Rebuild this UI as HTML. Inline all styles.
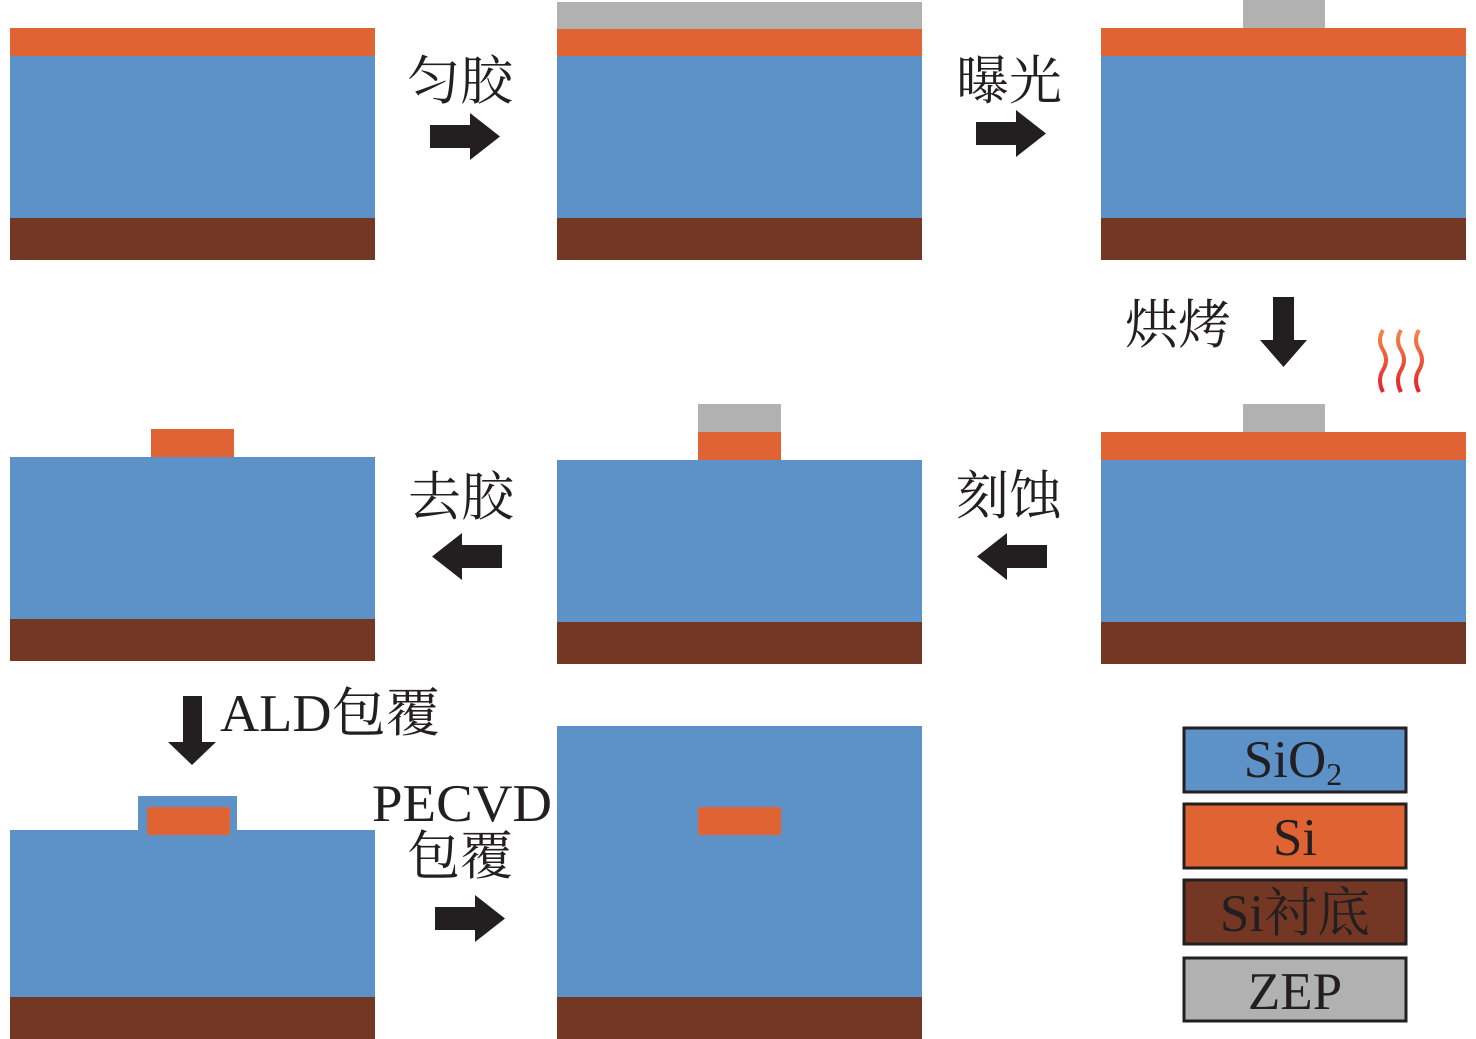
<!DOCTYPE html>
<html><head><meta charset="utf-8"><style>
body{margin:0;background:#fff}
svg{display:block}
text{font-family:"Liberation Serif","Noto Serif CJK SC",serif;fill:#231f20}
</style></head><body>
<svg width="1476" height="1039" viewBox="0 0 1476 1039" xmlns="http://www.w3.org/2000/svg">
<defs>
<linearGradient id="hg" x1="0" y1="0" x2="0" y2="1"><stop offset="0" stop-color="#f08a4a"/><stop offset="1" stop-color="#e8202a"/></linearGradient>
</defs>
<rect x="10" y="28" width="365" height="28" fill="#e06433"/><rect x="10" y="56" width="365" height="162" fill="#5d92c9"/><rect x="10" y="218" width="365" height="42" fill="#733723"/>
<rect x="557" y="2" width="365" height="27" fill="#b1b1b1"/>
<rect x="557" y="29" width="365" height="27" fill="#e06433"/><rect x="557" y="56" width="365" height="162" fill="#5d92c9"/><rect x="557" y="218" width="365" height="42" fill="#733723"/>
<rect x="1243" y="0" width="82" height="28" fill="#b1b1b1"/>
<rect x="1101" y="28" width="365" height="28" fill="#e06433"/><rect x="1101" y="56" width="365" height="162" fill="#5d92c9"/><rect x="1101" y="218" width="365" height="42" fill="#733723"/>

<rect x="1243" y="404" width="82" height="28" fill="#b1b1b1"/>
<rect x="1101" y="432" width="365" height="28" fill="#e06433"/><rect x="1101" y="460" width="365" height="162" fill="#5d92c9"/><rect x="1101" y="622" width="365" height="42" fill="#733723"/>

<rect x="698" y="404" width="83" height="28" fill="#b1b1b1"/><rect x="698" y="432" width="83" height="28" fill="#e06433"/>
<rect x="557" y="460" width="365" height="162" fill="#5d92c9"/><rect x="557" y="622" width="365" height="42" fill="#733723"/>

<rect x="151" y="429" width="83" height="28" fill="#e06433"/>
<rect x="10" y="457" width="365" height="162" fill="#5d92c9"/><rect x="10" y="619" width="365" height="42" fill="#733723"/>

<rect x="138" y="796" width="99" height="40" fill="#5d92c9"/>
<rect x="10" y="830" width="365" height="167" fill="#5d92c9"/><rect x="10" y="997" width="365" height="42" fill="#733723"/>
<rect x="147" y="807" width="83" height="28" fill="#e06433"/>

<rect x="557" y="726" width="365" height="271" fill="#5d92c9"/><rect x="557" y="997" width="365" height="42" fill="#733723"/>
<rect x="698" y="807" width="83" height="28" fill="#e06433"/>

<g fill="#231f20">
<polygon points="430,125 470,125 470,113 500,136.5 470,160 470,148 430,148"/>
<polygon points="976,122 1016,122 1016,110 1046,133.5 1016,157 1016,145 976,145"/>
<polygon points="435,907 475,907 475,895 505,918.5 475,942 475,930 435,930"/>
<polygon points="502,545 462,545 462,533 432,556.5 462,580 462,568 502,568"/>
<polygon points="1047,545 1007,545 1007,533 977,556.5 1007,580 1007,568 1047,568"/>
<polygon points="1273,297 1294,297 1294,340 1307,340 1283.5,367 1260,340 1273,340"/>
<polygon points="183,696 202,696 202,742 216,742 192,765 168,742 183,742"/>
</g>
<g fill="none" stroke="url(#hg)" stroke-width="4">
<path d="M1383,330 q-6,10 0,20 q6,10 0,20 q-6,10 0,22"/>
<path d="M1401,330 q-6,10 0,20 q6,10 0,20 q-6,10 0,22"/>
<path d="M1419,330 q-6,10 0,20 q6,10 0,20 q-6,10 0,22"/>
</g>

<g font-size="53">
<text x="407" y="99">匀胶</text>
<text x="956" y="99">曝光</text>
<text x="1125" y="343">烘烤</text>
<text x="408" y="515">去胶</text>
<text x="956" y="514">刻蚀</text>
<text x="220" y="731" textLength="220" lengthAdjust="spacingAndGlyphs">ALD包覆</text>
<text x="372" y="821" textLength="180" lengthAdjust="spacingAndGlyphs">PECVD</text>
<text x="407" y="874">包覆</text>
</g>

<g stroke="#231f20" stroke-width="3">
<rect x="1184" y="728" width="222" height="64" fill="#5d92c9"/>
<rect x="1184" y="804" width="222" height="64" fill="#e06433"/>
<rect x="1184" y="880" width="222" height="64" fill="#733723"/>
<rect x="1184" y="958" width="222" height="63" fill="#b1b1b1"/>
</g>
<g font-size="53" text-anchor="middle">
<text x="1293" y="777">SiO<tspan font-size="32" dy="8">2</tspan></text>
<text x="1295" y="855">Si</text>
<text x="1295" y="931">Si衬底</text>
<text x="1295" y="1009">ZEP</text>
</g>
</svg>
</body></html>
